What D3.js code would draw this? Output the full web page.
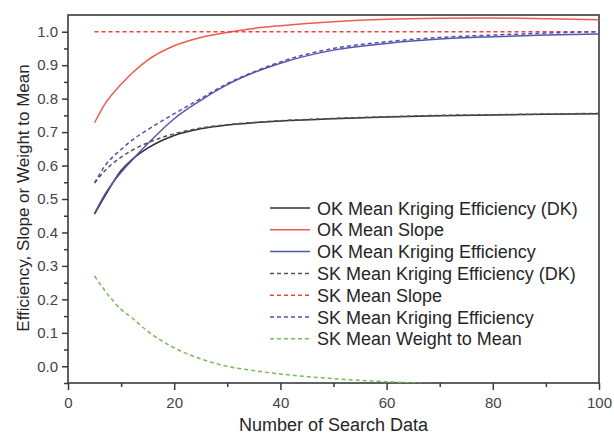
<!DOCTYPE html>
<html>
<head>
<meta charset="utf-8">
<script src="https://cdn.jsdelivr.net/npm/d3@7"></script>
<style>
  body { margin: 0; background: #fff; }
  text { font-family: "Liberation Sans", Arial, sans-serif; }
</style>
</head>
<body>
<div id="chart"></div>
<script>
// number of search data (x values)
var searchData = [5, 7, 10, 12, 15, 20, 25, 30, 35, 40, 50, 60, 70, 80, 90, 100];

// series
var okDkEff  = [0.455, 0.51, 0.585, 0.617, 0.652, 0.69, 0.71, 0.721, 0.728, 0.733, 0.740, 0.745, 0.749, 0.751, 0.753, 0.755];
var okSlope  = [0.728, 0.785, 0.843, 0.875, 0.915, 0.958, 0.983, 0.998, 1.010, 1.018, 1.030, 1.037, 1.040, 1.041, 1.039, 1.036];
var okEff    = [0.457, 0.515, 0.580, 0.615, 0.665, 0.740, 0.795, 0.842, 0.878, 0.906, 0.945, 0.965, 0.978, 0.985, 0.990, 0.993];
var skDkEff  = [0.548, 0.585, 0.625, 0.645, 0.668, 0.695, 0.712, 0.722, 0.729, 0.734, 0.741, 0.746, 0.750, 0.752, 0.754, 0.756];
var skSlope  = [1.0, 1.0, 1.0, 1.0, 1.0, 1.0, 1.0, 1.0, 1.0, 1.0, 1.0, 1.0, 1.0, 1.0, 1.0, 1.0];
var skEff    = [0.548, 0.600, 0.648, 0.675, 0.707, 0.755, 0.800, 0.845, 0.880, 0.910, 0.950, 0.970, 0.983, 0.990, 0.996, 1.000];
var skWeight = [0.270, 0.225, 0.170, 0.145, 0.105, 0.055, 0.022, 0.000, -0.013, -0.023, -0.037, -0.046, -0.053, null, null, null];

var legendNames = [
    'OK Mean Kriging Efficiency (DK)',
    'OK Mean Slope',
    'OK Mean Kriging Efficiency',
    'SK Mean Kriging Efficiency (DK)',
    'SK Mean Slope',
    'SK Mean Kriging Efficiency',
    'SK Mean Weight to Mean'
];

var xTicks = [0, 20, 40, 60, 80, 100];
var yTicks = [0.0, 0.1, 0.2, 0.3, 0.4, 0.5, 0.6, 0.7, 0.8, 0.9, 1.0];

// series list with styling
var series = [
    { values: okDkEff,  color: '#2f2f2f', dash: null },
    { values: okSlope,  color: '#ee5a50', dash: null },
    { values: okEff,    color: '#5257a8', dash: null },
    { values: skDkEff,  color: '#5e5248', dash: '4,3' },
    { values: skSlope,  color: '#e8453c', dash: '4,3' },
    { values: skEff,    color: '#5a4cb0', dash: '4,3' },
    { values: skWeight, color: '#78bb58', dash: '4,3' }
];

var svgWidth = 614;
var svgHeight = 437;

var margin = { top: 15, right: 15, bottom: 54, left: 68 };
var width = svgWidth - margin.left - margin.right;   // 531
var height = svgHeight - margin.top - margin.bottom; // 368

var svg = d3.select('#chart')
    .append('svg')
    .attr('width', svgWidth)
    .attr('height', svgHeight);

var chartGroup = svg.append('g')
    .attr('transform', `translate(${margin.left}, ${margin.top})`);

var xScale = d3.scaleLinear().domain([0, 100]).range([0, width]);
var yScale = d3.scaleLinear().domain([-0.05, 1.05]).range([height, 0]);

// clip so the lines stay inside the frame
chartGroup.append('clipPath')
    .attr('id', 'clip')
    .append('rect')
    .attr('width', width)
    .attr('height', height);

var axisColor = '#3a3a3a';

// minor ticks first
var xMinor = d3.axisBottom(xScale).tickValues(d3.range(10, 100, 20)).tickSize(4).tickFormat('');
chartGroup.append('g')
    .attr('transform', `translate(0, ${height})`)
    .call(xMinor)
    .call(g => g.select('.domain').remove())
    .call(g => g.selectAll('line').attr('stroke', axisColor).attr('stroke-width', 1.5));

var yMinor = d3.axisLeft(yScale).tickValues(d3.range(-0.05, 1.05, 0.1)).tickSize(4).tickFormat('');
chartGroup.append('g')
    .call(yMinor)
    .call(g => g.select('.domain').remove())
    .call(g => g.selectAll('line').attr('stroke', axisColor).attr('stroke-width', 1.5));

// major ticks
var xAxis = chartGroup.append('g')
    .attr('transform', `translate(0, ${height})`)
    .call(d3.axisBottom(xScale).tickValues(xTicks).tickSize(7).tickPadding(7).tickFormat(d3.format('d')));

var yAxis = chartGroup.append('g')
    .call(d3.axisLeft(yScale).tickValues(yTicks).tickSize(6).tickPadding(4).tickFormat(d3.format('.1f')));

[xAxis, yAxis].forEach(function (ax) {
    ax.select('.domain').remove();
    ax.selectAll('line').attr('stroke', axisColor).attr('stroke-width', 1.5);
    ax.selectAll('text')
        .attr('fill', '#444')
        .style('font-size', '15px')
        .style('font-family', '"Liberation Sans", Arial, sans-serif');
});

// frame
chartGroup.append('rect')
    .attr('width', width)
    .attr('height', height)
    .attr('fill', 'none')
    .attr('stroke', axisColor)
    .attr('stroke-width', 1.6);

// the lines
var lineGen = d3.line()
    .defined(d => d[1] !== null)
    .x(d => xScale(d[0]))
    .y(d => yScale(d[1]))
    .curve(d3.curveMonotoneX);

var plotGroup = chartGroup.append('g').attr('clip-path', 'url(#clip)');

series.forEach(function (s) {
    var pts = searchData.map((x, i) => [x, s.values[i]]);
    plotGroup.append('path')
        .datum(pts)
        .attr('d', lineGen)
        .attr('fill', 'none')
        .attr('stroke', s.color)
        .attr('stroke-width', 1.5)
        .attr('stroke-dasharray', s.dash);
});

// legend
var legend = svg.append('g')
    .attr('transform', 'translate(270, 208)');

var rowGap = 21.8;

legendNames.forEach(function (name, i) {
    var row = legend.append('g').attr('transform', `translate(0, ${i * rowGap})`);
    row.append('line')
        .attr('x1', 0).attr('x2', 40)
        .attr('y1', 0).attr('y2', 0)
        .attr('stroke', series[i].color)
        .attr('stroke-width', 1.5)
        .attr('stroke-dasharray', series[i].dash);
    row.append('text')
        .attr('x', 47)
        .attr('y', 6.5)
        .attr('fill', '#262626')
        .style('font-size', '18px')
        .text(name);
});

// axis titles
svg.append('text')
    .attr('x', margin.left + width / 2)
    .attr('y', 431)
    .attr('text-anchor', 'middle')
    .attr('fill', '#262626')
    .style('font-size', '18px')
    .text('Number of Search Data');

svg.append('text')
    .attr('transform', 'translate(29, 198) rotate(-90)')
    .attr('text-anchor', 'middle')
    .attr('fill', '#262626')
    .style('font-size', '17px')
    .text('Efficiency, Slope or Weight to Mean');
</script>
</body>
</html>
